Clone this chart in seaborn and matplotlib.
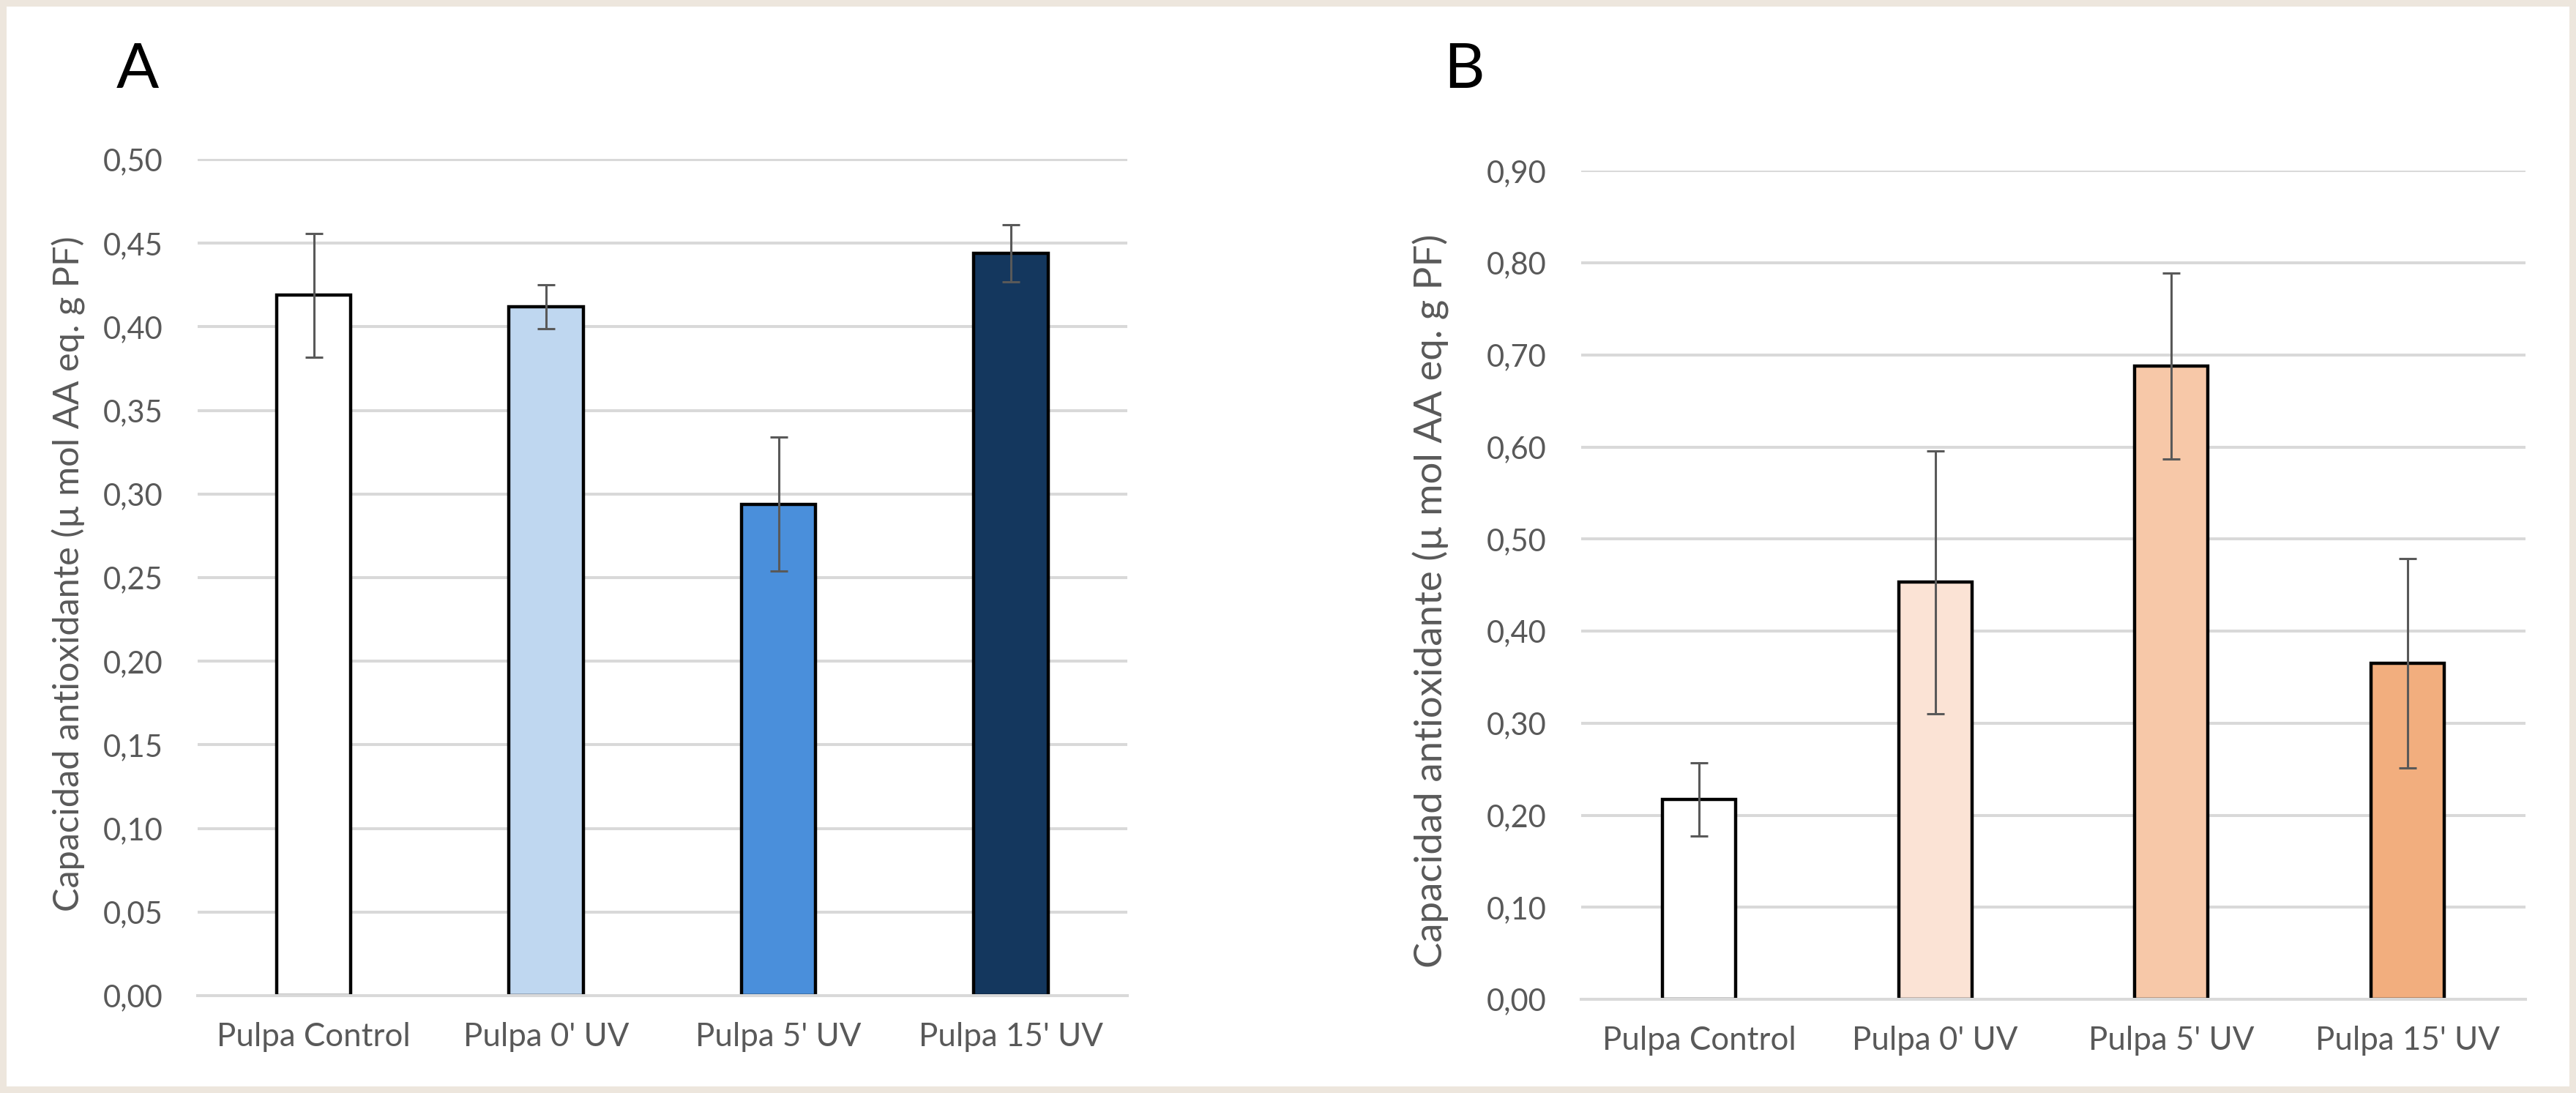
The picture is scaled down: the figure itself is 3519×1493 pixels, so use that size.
import numpy as np
import pandas as pd
import matplotlib.pyplot as plt
import seaborn as sns
from matplotlib.patches import Rectangle
from matplotlib.ticker import FuncFormatter

# ── data ───────────────────────────────────────────────────────────
categories = ['Pulpa Control', "Pulpa 0' UV", "Pulpa 5' UV", "Pulpa 15' UV"]

mean_a = [0.419, 0.412, 0.294, 0.444]
err_a = [0.037, 0.013, 0.040, 0.017]
colors_a = ['#FFFFFF', '#BFD7F0', '#4A8FDB', '#14375E']

mean_b = [0.217, 0.453, 0.688, 0.365]
err_b = [0.040, 0.143, 0.101, 0.114]
colors_b = ['#FFFFFF', '#FBE3D5', '#F7C8A8', '#F2AE7E']

ylabel = 'Capacidad antioxidante (µ mol AA eq. g PF)'

# ── setup ──────────────────────────────────────────────────────────
sns.set_theme(style='white')
plt.rcParams['font.family'] = ['Lato', 'DejaVu Sans']

TEXT = '#595959'
GRID = '#D9D9D9'

fig = plt.figure(figsize=(17.595, 7.465), dpi=200, facecolor='#EDE6DD')
# white card inside the beige border
fig.patches.append(Rectangle((9 / 3519, 9 / 1493), 3501 / 3519, 1475 / 1493,
                             transform=fig.transFigure, facecolor='white',
                             edgecolor='none', zorder=-10))

ax_a = fig.add_axes([0.0767, 0.0891, 0.3609, 0.7656])
ax_b = fig.add_axes([0.6138, 0.0857, 0.3666, 0.7584])

# ax, means, errs, colours, ymax, step, bar width, ylabel (x, y, size), letter x
panels = [
    (ax_a, mean_a, err_a, colors_a, 0.50, 0.05, 0.32,
     (-0.1205, 0.504, 17.5), ('A', 0.0534)),
    (ax_b, mean_b, err_b, colors_b, 0.90, 0.10, 0.31,
     (-0.1395, 0.481, 19.0), ('B', 0.5683)),
]

for ax, means, errs, colors, ymax, step, width, lab, let in panels:
    ax.patch.set_alpha(0)
    df = pd.DataFrame({'cat': categories, 'val': means, 'err': errs})
    sns.barplot(data=df, x='cat', y='val', hue='cat', palette=colors,
                saturation=1, legend=False, width=width, edgecolor='black',
                linewidth=1.6, errorbar=None, ax=ax, zorder=2)
    ax.errorbar(df.index, df['val'], yerr=df['err'], fmt='none',
                ecolor=TEXT, elinewidth=1.1, capsize=4.2, capthick=1.1,
                zorder=3)

    ax.set_xlim(-0.5, len(categories) - 0.5)
    ax.set_ylim(0, ymax + 0.0005)
    ax.set_yticks(np.arange(0, ymax + step / 2, step))
    ax.yaxis.set_major_formatter(
        FuncFormatter(lambda v, _: f'{v:.2f}'.replace('.', ',')))
    ax.yaxis.grid(True, color=GRID, linewidth=1.45)
    ax.set_axisbelow(True)

    for side in ['top', 'right', 'left']:
        ax.spines[side].set_visible(False)
    ax.spines['bottom'].set_color(GRID)
    ax.spines['bottom'].set_linewidth(1.45)

    ax.tick_params(axis='both', length=0, labelcolor=TEXT)
    ax.tick_params(axis='y', pad=17, labelsize=15)
    ax.tick_params(axis='x', pad=13, labelsize=15.8)

    ax.set_xlabel('')
    ax.set_ylabel(ylabel, fontsize=lab[2], color=TEXT)
    ax.yaxis.set_label_coords(lab[0], lab[1])

    fig.text(let[1], 0.9357, let[0], fontsize=31, color='black',
             ha='center', va='center')

plt.savefig('out.png', dpi=200, facecolor=fig.get_facecolor())
